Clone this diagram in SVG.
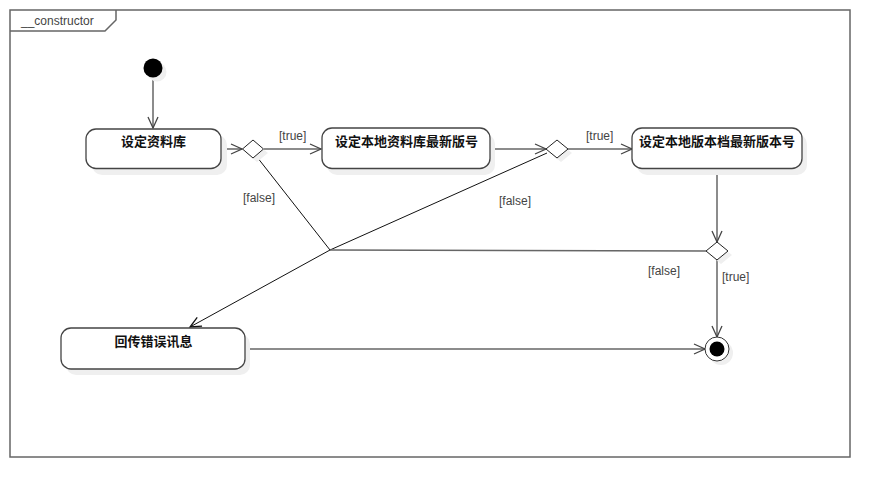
<svg xmlns="http://www.w3.org/2000/svg" width="890" height="498" viewBox="0 0 890 498">
<style>
.frame{fill:none;stroke:#666;stroke-width:1.5}
.box{fill:#fff;stroke:#444;stroke-width:1.3}
.shadow{fill:#efefef;stroke:none}
.t{font-family:"Noto Sans CJK SC","Liberation Sans",sans-serif;font-size:13px;font-weight:bold;fill:#111;text-anchor:middle}
.lbl{font-family:"Liberation Sans",Arial,sans-serif;font-size:12px;fill:#444}
.c{fill:none;stroke:#666;stroke-width:1.5}
.cb{fill:none;stroke:#111;stroke-width:1}
.dia{fill:#fff;stroke:#222;stroke-width:1}
</style>
<defs>
<marker id="arr" markerUnits="userSpaceOnUse" markerWidth="14" markerHeight="14" viewBox="-12 -6 14 12" refX="0" refY="0" orient="auto">
<path d="M-11,-5 L0,0 L-11,5" fill="none" stroke="#444" stroke-width="1.3"/>
</marker>
<marker id="arrb" markerUnits="userSpaceOnUse" markerWidth="14" markerHeight="14" viewBox="-12 -6 14 12" refX="0" refY="0" orient="auto">
<path d="M-11,-5 L0,0 L-11,5" fill="none" stroke="#111" stroke-width="1.3"/>
</marker>
</defs>
<rect x="0" y="0" width="890" height="498" fill="#fff"/>
<g id="frame">
<rect class="frame" x="10" y="10" width="840" height="447"/>
<path class="frame" d="M10,31 H105 L116,20 V10" stroke-width="1"/>
<text class="lbl" x="21" y="25" fill="#333" font-size="13">__constructor</text>
</g>
<g id="connectors">
<line class="c" x1="153" y1="78" x2="153" y2="128" marker-end="url(#arr)"/>
<line class="c" x1="221" y1="149" x2="242" y2="149" marker-end="url(#arr)"/>
<line class="c" x1="264" y1="149" x2="321" y2="149" marker-end="url(#arr)"/>
<line class="c" x1="490" y1="149" x2="546" y2="149" marker-end="url(#arr)"/>
<line class="c" x1="568" y1="149" x2="632" y2="149" marker-end="url(#arr)"/>
<line class="c" x1="717" y1="169" x2="717" y2="242" marker-end="url(#arr)"/>
<line class="c" x1="717" y1="260" x2="717" y2="337" marker-end="url(#arr)"/>
<line class="c" x1="245" y1="349" x2="705" y2="349" marker-end="url(#arr)"/>
<line class="cb" x1="257" y1="157" x2="330" y2="250"/>
<line class="cb" x1="547" y1="153" x2="330" y2="250"/>
<line class="c" x1="706" y1="251" x2="330" y2="250"/>
<line class="cb" x1="330" y1="250" x2="190" y2="327" stroke-width="1.3" marker-end="url(#arrb)"/>
<text class="lbl" x="279" y="140">[true]</text>
<text class="lbl" x="243" y="202">[false]</text>
<text class="lbl" x="499" y="205">[false]</text>
<text class="lbl" x="586" y="140">[true]</text>
<text class="lbl" x="648" y="275">[false]</text>
<text class="lbl" x="722" y="281">[true]</text>
</g>
<g id="start">
<circle class="shadow" cx="157" cy="72" r="9.5"/>
<circle cx="153" cy="68" r="9.5" fill="#000"/>
</g>
<g id="n1">
<rect class="shadow" x="92" y="135" width="135" height="40" rx="10"/>
<rect class="box" x="86" y="129" width="135" height="39.5" rx="10"/>
<text class="t" x="153.5" y="146">设定资料库</text>
</g>
<g id="d1">
<path class="shadow" d="M257,144 L268,153 L257,162 L246,153Z"/>
<path class="dia" d="M253,140 L263.5,149 L253,158 L242.5,149Z"/>
</g>
<g id="n2">
<rect class="shadow" x="327" y="134" width="168" height="41" rx="10"/>
<rect class="box" x="322" y="128" width="168" height="40.5" rx="10"/>
<text class="t" x="406.5" y="146">设定本地资料库最新版号</text>
</g>
<g id="d2">
<path class="shadow" d="M561,144 L572,153 L561,162 L550,153Z"/>
<path class="dia" d="M557,140 L568,149 L557,158 L546,149Z"/>
</g>
<g id="n3">
<rect class="shadow" x="637" y="134" width="170" height="41" rx="10"/>
<rect class="box" x="632" y="128" width="170" height="40.5" rx="10"/>
<text class="t" x="717" y="146" textLength="156" lengthAdjust="spacing">设定本地版本档最新版本号</text>
</g>
<g id="d3">
<path class="shadow" d="M721,246 L732,255 L721,264 L710,255Z"/>
<path class="dia" d="M717,242 L728,251 L717,260 L706,251Z"/>
</g>
<g id="n4">
<rect class="shadow" x="66" y="334" width="184" height="41" rx="10"/>
<rect class="box" x="61" y="328" width="184" height="41" rx="10"/>
<text class="t" x="153.5" y="346">回传错误讯息</text>
</g>
<g id="end">
<circle class="shadow" cx="721" cy="353" r="12"/>
<circle cx="717" cy="349" r="12" fill="#fff" stroke="#333" stroke-width="1"/>
<circle cx="717" cy="349" r="7.5" fill="#000"/>
</g>
</svg>
